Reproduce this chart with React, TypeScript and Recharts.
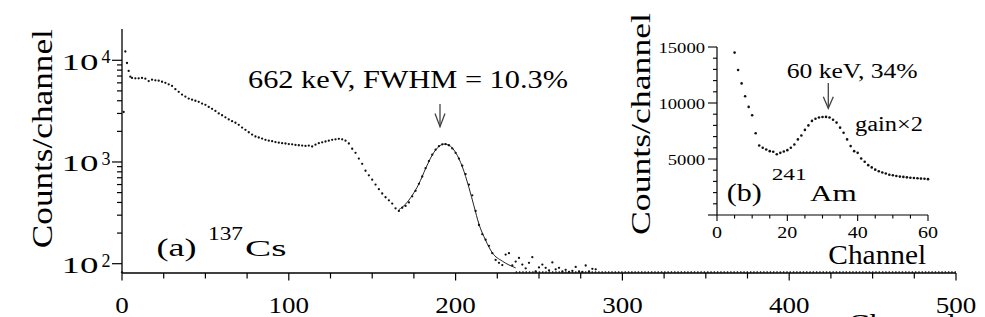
import { ComposedChart, Scatter, Line, XAxis, YAxis, ReferenceLine } from 'recharts'

const FONT = '"Liberation Serif", Tinos, "Times New Roman", Times, "DejaVu Serif", serif'

// (a) 137Cs spectrum, log scale
const CS_CHANNELS = [
  0, 1, 2, 3, 4, 5, 6, 8, 10, 12, 14, 16, 18, 20, 22, 24, 26, 28, 30, 32, 34, 36, 38, 40,
  42, 44, 46, 48, 50, 52, 54, 56, 58, 60, 62, 64, 66, 68, 70, 72, 74, 76, 78, 80, 82, 84,
  86, 88, 90, 92, 94, 96, 98, 100, 102, 104, 106, 108, 110, 112, 114, 116, 118, 120, 122,
  124, 126, 128, 130, 132, 134, 136, 138, 140, 142, 144, 146, 148, 150, 152, 154, 156, 158,
  160, 162, 164, 166, 168, 170, 172, 174, 176, 178, 180, 182, 184, 186, 188, 190, 192, 194,
  196, 198, 200, 202, 204, 206, 208, 210, 212, 214, 216, 218, 220, 222, 224, 226, 228, 230,
  232, 234, 236, 238, 240, 242, 244, 246, 248, 250, 252, 254, 256, 258, 260, 262, 264, 266,
  268, 270, 272, 274, 276, 278, 280, 282, 284,
]
const CS_COUNTS = [
  82, 3100, 12200, 9400, 7850, 6900, 6700, 6650, 6650, 6700, 6600, 6250, 6450, 6350, 6300,
  6150, 6000, 5800, 5600, 5200, 4900, 4600, 4400, 4200, 4100, 4000, 3900, 3750, 3650, 3480,
  3330, 3180, 3000, 2880, 2750, 2620, 2520, 2430, 2320, 2180, 2070, 1960, 1860, 1780, 1740,
  1700, 1650, 1620, 1600, 1570, 1550, 1530, 1520, 1500, 1490, 1470, 1460, 1450, 1440, 1450,
  1420, 1480, 1530, 1560, 1590, 1620, 1650, 1670, 1690, 1670, 1620, 1520, 1350, 1230, 1080,
  960, 820, 740, 670, 600, 540, 490, 450, 420, 390, 350, 330, 355, 370, 400, 460, 520, 610,
  720, 870, 1020, 1180, 1320, 1430, 1490, 1500, 1460, 1360, 1230, 1080, 920, 760, 600, 470,
  330, 240, 195, 172, 150, 127, 109, 102, 97, 123, 127, 96, 105, 114, 98, 90, 102, 116, 84,
  92, 98, 91, 86, 103, 88, 91, 84, 87, 83, 85, 93, 84, 83, 96, 84, 89, 88,
]

// fitted peak curve
const FIT_CHANNELS = [166, 170, 174, 178, 182, 186, 190, 193, 196, 200, 204, 208, 211, 214, 218, 222, 228, 236]
const FIT_COUNTS = [340, 385, 470, 610, 860, 1170, 1420, 1500, 1460, 1240, 900, 560, 370, 245, 170, 128, 106, 91]

// flat floor of the spectrum past the peak
const FLOOR_LEVEL = 83
const FLOOR_FROM = 236
const FLOOR_TO = 500

// (b) 241Am inset, linear scale
const AM_CHANNELS = [
  5, 6, 7, 8, 9, 10, 11, 12, 13, 14, 15, 16, 17, 18, 19, 20, 21, 22, 23, 24, 25, 26, 27, 28,
  29, 30, 31, 32, 33, 34, 35, 36, 37, 38, 39, 40, 41, 42, 43, 44, 45, 46, 47, 48, 49, 50, 51,
  52, 53, 54, 55, 56, 57, 58, 59, 60,
]
const AM_COUNTS = [
  14500, 12950, 11750, 10600, 9650, 8900, 7300, 6200, 6000, 5850, 5700, 5650, 5420, 5550,
  5670, 5790, 6000, 6300, 6750, 7100, 7600, 8000, 8400, 8600, 8700, 8750, 8760, 8700, 8500,
  8250, 7800, 7350, 6750, 6150, 5700, 5550, 5050, 4750, 4450, 4250, 4050, 3900, 3800, 3700,
  3600, 3550, 3480, 3430, 3400, 3360, 3330, 3300, 3280, 3250, 3230, 3200,
]

const MAIN_X_TICKS = [0, 25, 50, 75, 100, 125, 150, 175, 200, 225, 250, 275, 300, 325, 350, 375, 400, 425, 450, 475, 500]
const MAIN_Y_TICKS = [
  100, 200, 300, 400, 500, 600, 700, 800, 900,
  1000, 2000, 3000, 4000, 5000, 6000, 7000, 8000, 9000, 10000,
]
const MAIN_Y_MAJOR = [100, 1000, 10000]
const INSET_X_TICKS = [0, 5, 10, 15, 20, 25, 30, 35, 40, 45, 50, 55, 60]
const INSET_Y_TICKS = [0, 1000, 2000, 3000, 4000, 5000, 6000, 7000, 8000, 9000, 10000, 11000, 12000, 13000, 14000, 15000]

const csData = CS_CHANNELS.map((ch, i) => ({ ch, counts: CS_COUNTS[i] }))
const fitData = FIT_CHANNELS.map((ch, i) => ({ ch, counts: FIT_COUNTS[i] }))
const amData = AM_CHANNELS.map((ch, i) => ({ ch, counts: AM_COUNTS[i] }))

const frame = { stroke: '#000', strokeWidth: 1.3 }
const insetFrame = { stroke: '#000', strokeWidth: 1.2 }

function MainXTick({ x, y, payload }: any) {
  const v = payload.value
  const major = v % 100 === 0
  const label = String(v)
  return (
    <g>
      <line x1={x} y1={y} x2={x} y2={y + (major ? 7.5 : 5.5)} stroke="#000" strokeWidth={1.2} />
      {major && (
        <text x={x} y={y + 39.5} textAnchor="middle" fontSize={24} fontFamily={FONT} fill="#000"
          textLength={label.length * 13.5} lengthAdjust="spacingAndGlyphs">{label}</text>
      )}
    </g>
  )
}

function MainYTick({ x, y, payload }: any) {
  const v = payload.value
  if (!MAIN_Y_MAJOR.includes(v)) {
    return <line x1={x - 5} y1={y} x2={x} y2={y} stroke="#000" strokeWidth={1.2} />
  }
  const exp = Math.round(Math.log10(v))
  return (
    <g>
      <line x1={x - 10} y1={y} x2={x} y2={y} stroke="#000" strokeWidth={1.2} />
      <text x={x - 60.5} y={y + 9.3} fontSize={23} fontFamily={FONT} fill="#000"
        textLength={37} lengthAdjust="spacingAndGlyphs">10</text>
      <text x={x - 20.5} y={y + 3} fontSize={18} fontFamily={FONT} fill="#000">{exp}</text>
    </g>
  )
}

function InsetXTick({ x, y, payload }: any) {
  const v = payload.value
  const major = v % 20 === 0
  const label = String(v)
  return (
    <g>
      <line x1={x} y1={y} x2={x} y2={y + (major ? 6 : 3.5)} stroke="#000" strokeWidth={1.1} />
      {major && (
        <text x={x} y={y + 23} textAnchor="middle" fontSize={16} fontFamily={FONT} fill="#000"
          textLength={label.length * 10} lengthAdjust="spacingAndGlyphs">{label}</text>
      )}
    </g>
  )
}

function InsetYTick({ x, y, payload }: any) {
  const v = payload.value
  const major = v % 5000 === 0
  const label = String(v)
  return (
    <g>
      <line x1={x - (major ? 9 : 4)} y1={y} x2={x} y2={y} stroke="#000" strokeWidth={1.1} />
      {major && v > 0 && (
        <text x={x - 12} y={y + 6} textAnchor="end" fontSize={15} fontFamily={FONT} fill="#000"
          textLength={label.length * 9.3} lengthAdjust="spacingAndGlyphs">{label}</text>
      )}
    </g>
  )
}

const Dot = (p: any) => <circle cx={p.cx} cy={p.cy} r={1.15} fill="#111" />
const InsetDot = (p: any) => <circle cx={p.cx} cy={p.cy} r={1.3} fill="#111" />

export default function App() {
  return (
    <div style={{ position: 'absolute', left: 0, top: 0, width: 985, height: 317, background: '#fff', overflow: 'hidden', fontFamily: FONT }}>
      <div style={{ position: 'absolute', left: 0, top: 0 }}>
        <ComposedChart width={985} height={317} margin={{ top: 29, right: 29, bottom: 4, left: 62 }}>
          <XAxis dataKey="ch" type="number" domain={[0, 500]} ticks={MAIN_X_TICKS} interval={0}
            height={40} tickSize={0} tickMargin={0} tickLine={false} axisLine={frame} tick={MainXTick} />
          <XAxis xAxisId="top" orientation="top" type="number" domain={[0, 500]} height={0}
            tick={false} tickLine={false} axisLine={frame} />
          <YAxis type="number" scale="log" domain={[81, 20300]} allowDataOverflow ticks={MAIN_Y_TICKS}
            interval={0} width={60} tickSize={0} tickMargin={0} tickLine={false} axisLine={frame} tick={MainYTick} />
          <YAxis yAxisId="right" orientation="right" type="number" domain={[0, 1]} width={0}
            tick={false} tickLine={false} axisLine={frame} />
          <ReferenceLine segment={[{ x: FLOOR_FROM, y: FLOOR_LEVEL }, { x: FLOOR_TO, y: FLOOR_LEVEL }]}
            stroke="#222" strokeWidth={1.5} strokeDasharray="1.4 1.9" />
          <Line data={fitData} dataKey="counts" type="monotone" stroke="#222" strokeWidth={1}
            dot={false} isAnimationActive={false} />
          <Scatter data={csData} dataKey="counts" shape={Dot} isAnimationActive={false} />
        </ComposedChart>
      </div>

      <div style={{ position: 'absolute', left: 0, top: 0 }}>
        <ComposedChart width={985} height={317} margin={{ top: 47, right: 57, bottom: 72, left: 667 }}>
          <XAxis dataKey="ch" type="number" domain={[0, 60]} ticks={INSET_X_TICKS} interval={0}
            height={30} tickSize={0} tickMargin={0} tickLine={false} axisLine={insetFrame} tick={InsetXTick} />
          <XAxis xAxisId="top" orientation="top" type="number" domain={[0, 60]} height={0}
            tick={false} tickLine={false} axisLine={insetFrame} />
          <YAxis type="number" domain={[0, 15000]} ticks={INSET_Y_TICKS} interval={0} width={50}
            tickSize={0} tickMargin={0} tickLine={false} axisLine={insetFrame} tick={InsetYTick} />
          <YAxis yAxisId="right" orientation="right" type="number" domain={[0, 1]} width={0}
            tick={false} tickLine={false} axisLine={insetFrame} />
          <Scatter data={amData} dataKey="counts" shape={InsetDot} isAnimationActive={false} />
        </ComposedChart>
      </div>

      <svg width={985} height={317} style={{ position: 'absolute', left: 0, top: 0, pointerEvents: 'none', fontFamily: FONT }}>
        {/* main axis titles */}
        <text transform="translate(52,138.7) rotate(-90)" textAnchor="middle" fontSize={30} fill="#000"
          textLength={219} lengthAdjust="spacingAndGlyphs">Counts/channel</text>
        <text x={848} y={333} fontSize={28} fill="#000" textLength={108} lengthAdjust="spacingAndGlyphs">Channel</text>

        {/* peak annotation */}
        <text x={248} y={88.3} fontSize={25} fill="#000" textLength={320} lengthAdjust="spacingAndGlyphs">662 keV, FWHM = 10.3%</text>
        <g stroke="#444" strokeWidth={1.3} fill="none">
          <line x1={440} y1={104} x2={440} y2={126.7} />
          <polyline points="435,113.5 440,126.7 445,113.5" />
        </g>

        <text x={156.5} y={255.7} fontSize={26} fill="#000" textLength={40} lengthAdjust="spacingAndGlyphs">(a)</text>
        <text x={208} y={240} fontSize={18} fill="#000" textLength={35} lengthAdjust="spacingAndGlyphs">137</text>
        <text x={245} y={255.7} fontSize={24} fill="#000" textLength={41.5} lengthAdjust="spacingAndGlyphs">Cs</text>

        {/* inset texts */}
        <text transform="translate(650,124) rotate(-90)" textAnchor="middle" fontSize={28} fill="#000"
          textLength={222} lengthAdjust="spacingAndGlyphs">Counts/channel</text>
        <text x={828.3} y={264} fontSize={27} fill="#000" textLength={98} lengthAdjust="spacingAndGlyphs">Channel</text>
        <text x={786.7} y={77.7} fontSize={22} fill="#000" textLength={131} lengthAdjust="spacingAndGlyphs">60 keV, 34%</text>
        <g stroke="#444" strokeWidth={1.3} fill="none">
          <line x1={828.3} y1={83} x2={828.3} y2={108.3} />
          <polyline points="823.3,96.7 828.3,108.3 833.3,96.7" />
        </g>
        <text x={855} y={131} fontSize={20} fill="#000" textLength={68} lengthAdjust="spacingAndGlyphs">gain×2</text>
        <text x={726.7} y={200.7} fontSize={25} fill="#000" textLength={35} lengthAdjust="spacingAndGlyphs">(b)</text>
        <text x={771.7} y={180} fontSize={17} fill="#000" textLength={35} lengthAdjust="spacingAndGlyphs">241</text>
        <text x={810} y={200.7} fontSize={23} fill="#000" textLength={46.7} lengthAdjust="spacingAndGlyphs">Am</text>
      </svg>
    </div>
  )
}
